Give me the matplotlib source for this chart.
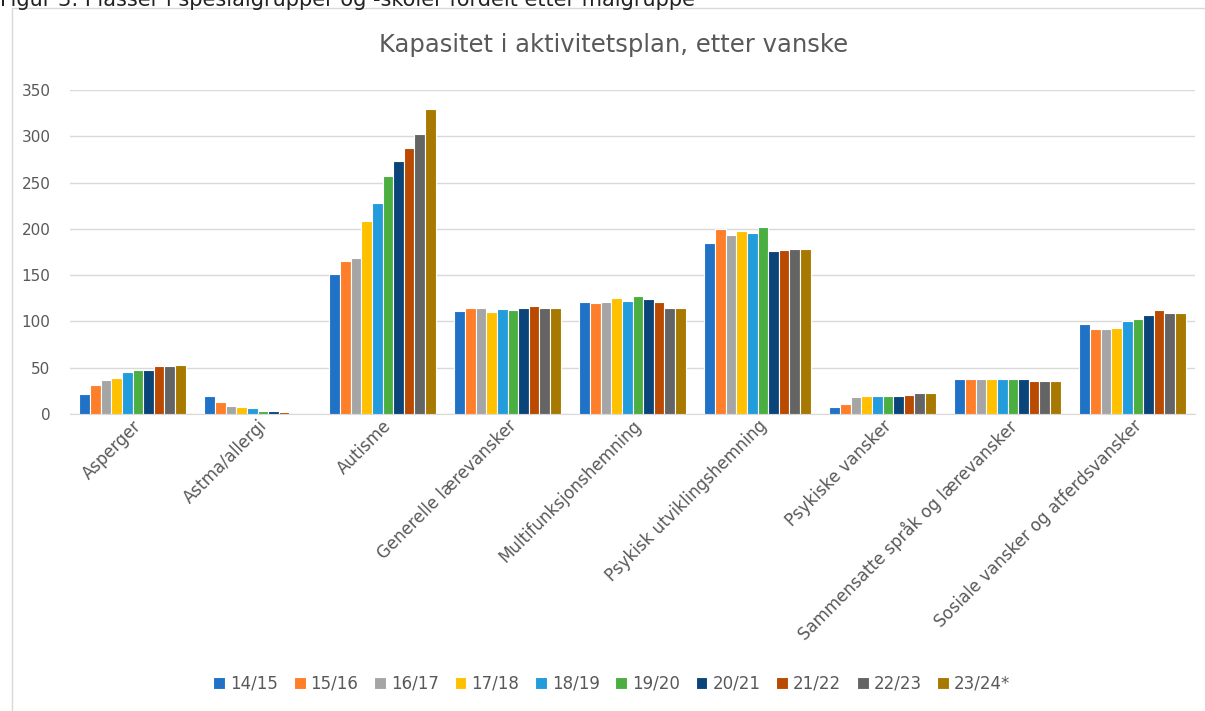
import matplotlib
matplotlib.use("Agg")
import matplotlib.pyplot as plt
import numpy as np
from matplotlib.patches import Rectangle

categories = ["Asperger", "Astma/allergi", "Autisme", "Generelle lærevansker",
              "Multifunksjonshemning", "Psykisk utviklingshemning", "Psykiske vansker",
              "Sammensatte språk og lærevansker", "Sosiale vansker og atferdsvansker"]
series = ["14/15", "15/16", "16/17", "17/18", "18/19", "19/20", "20/21", "21/22", "22/23", "23/24*"]

v_1415 = [22, 19.5, 151, 111, 121, 185, 7.5, 37.5, 97]
v_1516 = [31, 12.5, 165, 114, 119.5, 200, 11, 37.5, 91.5]
v_1617 = [37, 8.5, 168, 114, 121, 193, 18, 37.5, 91.5]
v_1718 = [39, 7.5, 209, 110.5, 125, 198, 19.5, 37.5, 93]
v_1819 = [45, 6.5, 228, 113, 122, 196, 19.5, 37.5, 100]
v_1920 = [47.5, 3, 257, 112, 128, 202, 19.5, 37.5, 103]
v_2021 = [47.5, 3, 273, 114, 124.5, 176, 19.5, 37.5, 107]
v_2122 = [51.5, 1.8, 287, 116.5, 120.5, 177, 21, 35.5, 112]
v_2223 = [51.5, 0, 302, 114, 114, 178, 23, 35.5, 109]
v_2324 = [53, 0, 329, 114, 114, 178, 23, 35.5, 109]
values = [v_1415, v_1516, v_1617, v_1718, v_1819, v_1920, v_2021, v_2122, v_2223, v_2324]

colors = ["#1F72C6", "#FF7E29", "#A5A5A5", "#FFC000", "#229CDA",
          "#4BAE41", "#0B4479", "#B94A00", "#646464", "#A77900"]

fig = plt.figure(figsize=(12.05, 7.11), dpi=100)
ax = fig.add_axes([70/1205, 1-414/711, 1125/1205, 324/711])

n = len(series)
group_w = 0.85
bw = group_w / n
x = np.arange(len(categories))
for i, (s, vals) in enumerate(zip(series, values)):
    ax.bar(x - group_w/2 + bw*(i+0.5), vals, width=bw, color=colors[i],
           edgecolor="white", linewidth=0.8, label=s, zorder=3)

ax.set_xlim(-0.5, len(categories)-0.5)
ax.set_ylim(0, 350)
ax.set_yticks(np.arange(0, 351, 50))
ax.yaxis.grid(True, color="#D9D9D9", linewidth=1, zorder=0)
ax.tick_params(axis="y", length=0, colors="#595959", labelsize=11, pad=14)
ax.tick_params(axis="x", length=0, colors="#595959", labelsize=12, pad=2)
for sp in ["top", "right", "left"]:
    ax.spines[sp].set_visible(False)
ax.spines["bottom"].set_color("#D9D9D9")
ax.set_xticks(x)
ax.set_xticklabels(categories, rotation=45, ha="right", rotation_mode="anchor")

fig.text(614/1205, 1-45/711, "Kapasitet i aktivitetsplan, etter vanske", ha="center", va="center",
         fontsize=17.5, color="#595959")

fig.text(0.0, 1.0 + 2/711, "Figur 3: Plasser i spesialgrupper og -skoler fordelt etter målgruppe",
         ha="left", va="center", fontsize=15, color="#222222")

fig.patches.append(Rectangle((12/1205, -0.01), 1.0, 1 - 8/711 + 0.01, transform=fig.transFigure,
                             fill=False, edgecolor="#D9D9D9", linewidth=1))

ax.legend(loc="center", bbox_to_anchor=(612/1205, 1-684/711), bbox_transform=fig.transFigure,
          ncol=n, frameon=False, fontsize=12, labelcolor="#595959",
          handlelength=0.7, handleheight=0.7, handletextpad=0.3, columnspacing=0.95)

fig.savefig("out.png", dpi=100)
